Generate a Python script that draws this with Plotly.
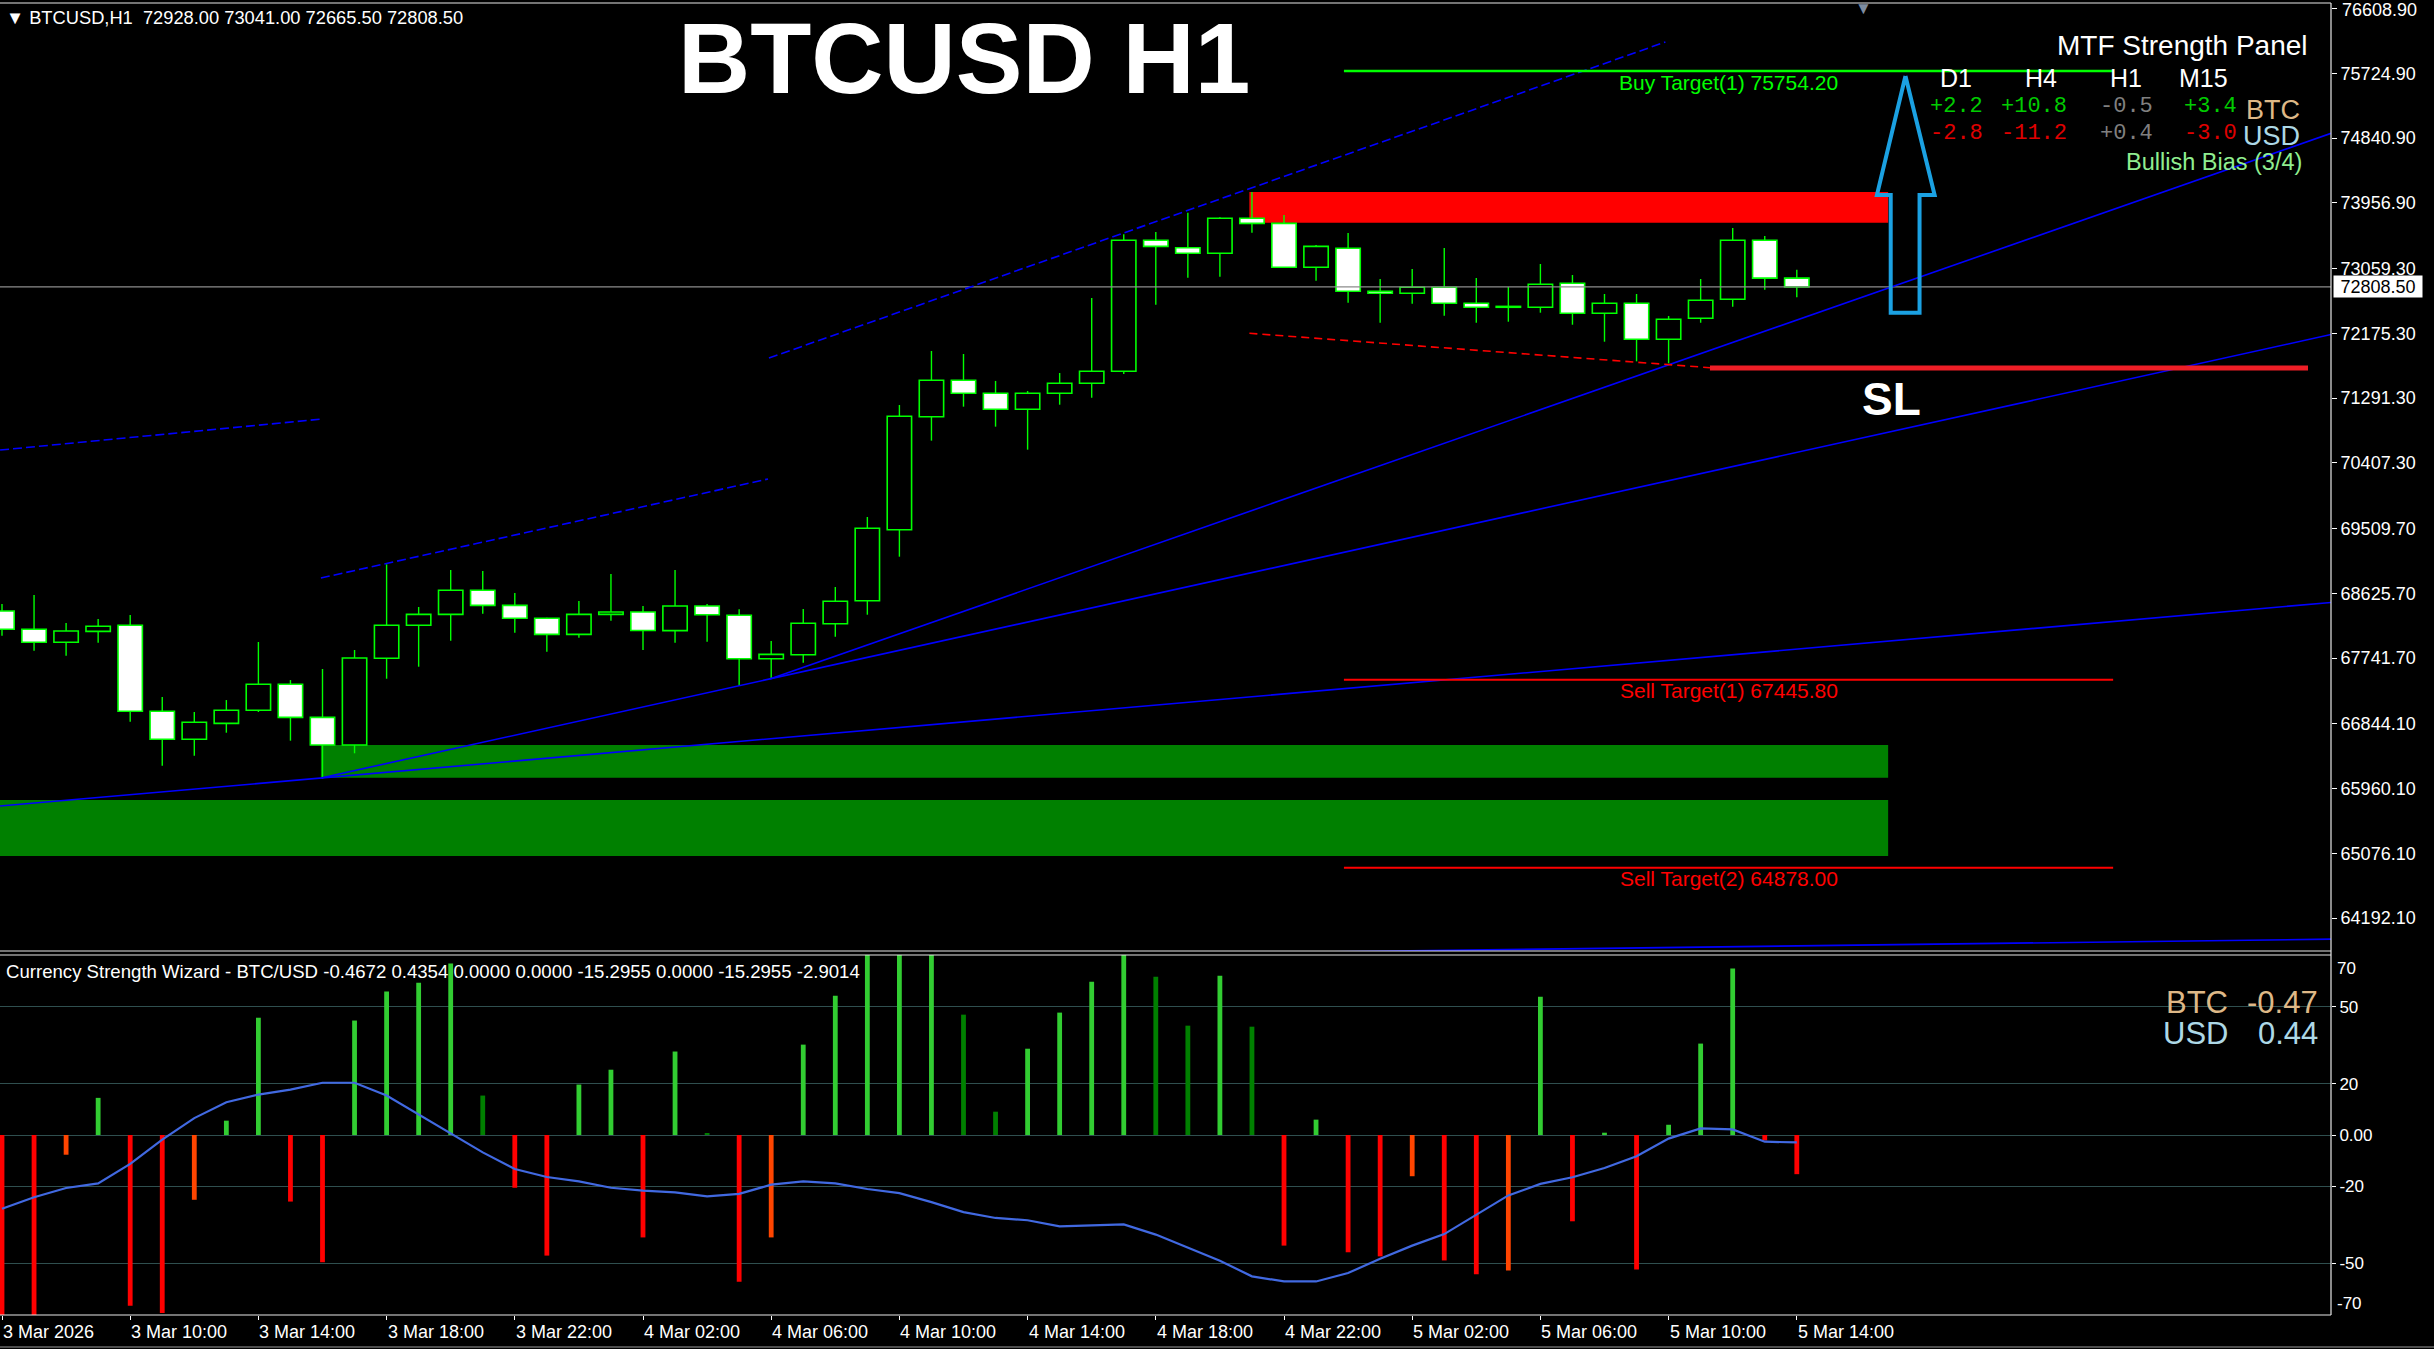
import plotly.graph_objects as go

# ---------------- DATA ----------------
symbol = "BTCUSD"
timeframe = "H1"
time_tick_bars = list(range(0, 57, 4))
time_tick_labels = ["3 Mar 2026", "3 Mar 10:00", "3 Mar 14:00", "3 Mar 18:00", "3 Mar 22:00",
                    "4 Mar 02:00", "4 Mar 06:00", "4 Mar 10:00", "4 Mar 14:00", "4 Mar 18:00",
                    "4 Mar 22:00", "5 Mar 02:00", "5 Mar 06:00", "5 Mar 10:00", "5 Mar 14:00"]

opens = [68383, 68134, 67956, 68106, 68188, 67014, 66632, 66850, 67028, 67383,
         66932, 66554, 67738, 68188, 68338, 68666, 68461, 68284, 68065, 68338,
         68370, 68115, 68452, 68325, 67732, 67787, 68210, 68524, 69493, 71036,
         71533, 71356, 71137, 71356, 71492, 71656, 73444, 73343, 73267, 73745,
         73676, 73076, 73335, 72748, 72721, 72803, 72584, 72530, 72530, 72857,
         72448, 72584, 72093, 72380, 72639, 73444, 72928.00]
highs = [68479, 68602, 68220, 68274, 68329, 67209, 67005, 67168, 67960, 67441,
         67592, 67851, 69021, 68438, 68943, 68930, 68629, 68290, 68520, 68889,
         68452, 68943, 68479, 68407, 67974, 68411, 68711, 69667, 71196, 71933,
         71892, 71524, 71387, 71633, 72657, 73526, 73558, 73821, 73758, 74104,
         73790, 73380, 73544, 72916, 73053, 73339, 72930, 72807, 73121, 72971,
         72711, 72711, 72411, 72916, 73612, 73503, 73041.00]
lows = [68046, 67841, 67773, 67951, 66872, 66272, 66408, 66722, 67005, 66613,
        66094, 66441, 67459, 67623, 67978, 68347, 68087, 67828, 68019, 68251,
        67851, 67951, 67964, 67360, 67455, 67678, 68033, 68333, 69125, 70709,
        71173, 70900, 70586, 71200, 71296, 71619, 72565, 72934, 72947, 73548,
        73070, 72893, 72592, 72319, 72579, 72415, 72319, 72333, 72456, 72292,
        72060, 71792, 71765, 72319, 72538, 72770, 72665.50]
closes = [68134, 67956, 68110, 68175, 67014, 66632, 66864, 67028, 67383, 66932,
          66554, 67742, 68188, 68338, 68666, 68461, 68284, 68065, 68338, 68370,
          68117, 68452, 68333, 67732, 67792, 68216, 68516, 69513, 71042, 71533,
          71356, 71137, 71356, 71492, 71656, 73444, 73362, 73267, 73745, 73676,
          73076, 73362, 72748, 72721, 72803, 72584, 72530, 72542, 72844, 72448,
          72584, 72093, 72366, 72625, 73444, 72928, 72808.50]

price_ticks = [76608.90, 75724.90, 74840.90, 73956.90, 73059.30, 72175.30, 71291.30,
               70407.30, 69509.70, 68625.70, 67741.70, 66844.10, 65960.10, 65076.10, 64192.10]

# zones (bar index from/to, price top/bottom)
zone_x0 = [9.95, -1.0, 38.92]
zone_x1 = [58.85, 58.85, 58.85]
zone_top = [66554, 65803, 74104]
zone_bot = [66108, 65039, 73684]
zone_colors = ["#008000", "#008000", "#FF0000"]

# trend lines (bar, price) endpoints
solid_lines = [
    [(-0.06, 65721), (72.67, 68500)],
    [(9.95, 66104), (72.67, 72158)],
    [(23.96, 67455), (72.67, 74905)],
    [(30.0, 63667), (72.67, 63904)],
]
dashed_lines = [
    [(-0.06, 70581), (10.0, 71005)],
    [(9.95, 68834), (23.9, 70186)],
    [(23.93, 71837), (51.9, 76151)],
]
red_dash_line = [(38.92, 72175), (53.29, 71705)]
sl_price = 71700
sl_x = [53.29, 71.95]

buy_targets = [75754.20]
sell_targets = [67445.80, 64878.00]
target_x = [41.87, 65.87]

arrow_x = [59.39, 60.30, 59.83, 59.83, 58.93, 58.93, 58.50, 59.39]
arrow_y = [75687, 74063, 74063, 72456, 72456, 74063, 74063, 75687]

# Currency strength indicator
cs_hist = [-72, -72, -7.7, 14.5, -66.7, -69.5, -25.3, 5.6, 45.8, -26,
           -49.7, 44.7, 56, 59.5, 67, 15.4, -20.6, -47.1, 19.7, 25.5,
           -40, 32.6, 0.4, -57.3, -40, 35.3, 54.4, 71, 72, 72,
           47, 9.1, 33.7, 47.8, 59.9, 72, 61.8, 42.7, 62.2, 42.3,
           -43.2, 6, -45.8, -47.4, -16.1, -49, -54.4, -52.9, 54, -33.7,
           0.9, -52.5, 4, 35.7, 65, -2.1, -15.3]
cs_state = ['dn', 'dn', 'dn2', 'up', 'dn', 'dn', 'dn2', 'up', 'up', 'dn',
            'dn', 'up', 'up', 'up', 'up', 'up2', 'dn', 'dn', 'up', 'up',
            'dn', 'up', 'up2', 'dn', 'dn2', 'up', 'up', 'up', 'up', 'up',
            'up2', 'up2', 'up', 'up', 'up', 'up', 'up2', 'up2', 'up', 'up2',
            'dn', 'up', 'dn', 'dn', 'dn2', 'dn', 'dn', 'dn2', 'up', 'dn',
            'up', 'dn', 'up', 'up', 'up', 'dn', 'dn']
cs_line = [-28.8, -24.3, -20.7, -18.9, -11.3, -1.8, 6.6, 12.8, 15.8, 17.7,
           20.4, 20.4, 15.4, 7.9, 0.5, -6.8, -13.3, -16.4, -18.1, -20.6,
           -21.7, -22.4, -24.0, -23.0, -19.4, -18.1, -18.9, -21.1, -22.7, -26.2,
           -30.1, -32.4, -33.3, -35.7, -35.3, -34.9, -38.9, -43.9, -49.1, -55.2,
           -57.2, -57.2, -53.9, -48.3, -43.2, -38.7, -31.1, -23.6, -19.1, -16.5,
           -12.9, -8.3, -1.4, 2.6, 2.2, -2.6, -2.9]
cs_buffers = [-0.4672, 0.4354, 0.0000, 0.0000, -15.2955, 0.0000, -15.2955, -2.9014]
cs_ticks = [50, 20, 0, -20, -50]
cs_ticktext = ["50", "20", "0.00", "-20", "-50"]

mtf_frames = ["D1", "H4", "H1", "M15"]
mtf_btc = [2.2, 10.8, -0.5, 3.4]
mtf_usd = [-2.8, -11.2, 0.4, -3.0]
mtf_bias = "Bullish Bias (3/4)"

# ---------------- LAYOUT HELPERS ----------------
W, H = 2434, 1349
PL, PR, PT, PB = 0, 2331, 3, 1315
MAIN_BOTTOM, IND_TOP = 951, 955


def px(x):
    return (x - PL) / (PR - PL)


def py(y):
    return (PB - y) / (PB - PT)


FONT = "Liberation Sans"
LIME = "#00FF00"
hist_colors = {'up': '#32CD32', 'up2': '#008000', 'dn': '#FF0000', 'dn2': '#FF4500'}

fig = go.Figure()
n = len(opens)
idx = list(range(n))

# zones
for x0, x1, t, b, c in zip(zone_x0, zone_x1, zone_top, zone_bot, zone_colors):
    fig.add_shape(type="rect", xref="x", yref="y", x0=x0, x1=x1, y0=b, y1=t,
                  fillcolor=c, line=dict(width=0), layer="below")

# candle bodies
body_base = [min(o, c) for o, c in zip(opens, closes)]
body_h = [max(abs(c - o), 6) for o, c in zip(opens, closes)]
body_fill = ["black" if c >= o else "white" for o, c in zip(opens, closes)]
fig.add_trace(go.Bar(x=idx, y=body_h, base=body_base, width=0.76,
                     marker=dict(color=body_fill, line=dict(color=LIME, width=1.6)),
                     xaxis="x", yaxis="y", hoverinfo="skip"))

# wicks
wx, wy = [], []
for i, o, h, l, c in zip(idx, opens, highs, lows, closes):
    top, bot = max(o, c), min(o, c)
    wx += [i, i, None, i, i, None]
    wy += [h, top, None, bot, l, None]
fig.add_trace(go.Scatter(x=wx, y=wy, mode="lines", line=dict(color=LIME, width=1.4),
                         xaxis="x", yaxis="y", hoverinfo="skip"))

# bid line
fig.add_trace(go.Scatter(x=[-1, 80], y=[closes[-1], closes[-1]], mode="lines",
                         line=dict(color="#8C8C8C", width=1.2), xaxis="x", yaxis="y"))

# trend lines
for seg in solid_lines:
    fig.add_trace(go.Scatter(x=[p[0] for p in seg], y=[p[1] for p in seg], mode="lines",
                             line=dict(color="#0000FF", width=1.6), xaxis="x", yaxis="y"))
for seg in dashed_lines:
    fig.add_trace(go.Scatter(x=[p[0] for p in seg], y=[p[1] for p in seg], mode="lines",
                             line=dict(color="#0000FF", width=1.6, dash="9px,4px"), xaxis="x", yaxis="y"))
fig.add_trace(go.Scatter(x=[p[0] for p in red_dash_line], y=[p[1] for p in red_dash_line], mode="lines",
                         line=dict(color="#FF0000", width=1.6, dash="8px,5px"), xaxis="x", yaxis="y"))
fig.add_trace(go.Scatter(x=sl_x, y=[sl_price, sl_price], mode="lines",
                         line=dict(color="#EE1E26", width=5), xaxis="x", yaxis="y"))

# targets
for k, v in enumerate(buy_targets):
    fig.add_trace(go.Scatter(x=target_x, y=[v, v], mode="lines", line=dict(color=LIME, width=2.5),
                             xaxis="x", yaxis="y"))
    fig.add_annotation(x=sum(target_x) / 2, y=v, xref="x", yref="y", text=f"Buy Target({k+1}) {v:.2f}",
                       showarrow=False, yshift=-11, font=dict(family=FONT, size=21, color=LIME))
for k, v in enumerate(sell_targets):
    fig.add_trace(go.Scatter(x=target_x, y=[v, v], mode="lines", line=dict(color="#FF0000", width=2),
                             xaxis="x", yaxis="y"))
    fig.add_annotation(x=sum(target_x) / 2, y=v, xref="x", yref="y", text=f"Sell Target({k+1}) {v:.2f}",
                       showarrow=False, yshift=-11, font=dict(family=FONT, size=21, color="#FF0000"))

# arrow
fig.add_trace(go.Scatter(x=arrow_x, y=arrow_y, mode="lines", line=dict(color="#1BA1E2", width=4),
                         xaxis="x", yaxis="y"))

# indicator
fig.add_trace(go.Bar(x=idx, y=cs_hist, width=0.15, marker=dict(color=[hist_colors[s] for s in cs_state], line=dict(width=0)),
                     xaxis="x", yaxis="y2"))
fig.add_trace(go.Scatter(x=idx, y=cs_line, mode="lines", line=dict(color="#4169E1", width=2.2),
                         xaxis="x", yaxis="y2"))

# ---------------- TEXT ----------------
def ann(text, x, y, size, color, xanchor="center", family=FONT, bold=False, yanchor="middle"):
    fig.add_annotation(text=(f"<b>{text}</b>" if bold else text), x=px(x), y=py(y), xref="paper", yref="paper",
                       xanchor=xanchor, yanchor=yanchor, showarrow=False,
                       font=dict(family=family, size=size, color=color))

ann(f"▼ {symbol},{timeframe}  {opens[-1]:.2f} {highs[-1]:.2f} {lows[-1]:.2f} {closes[-1]:.2f}",
    4, 17.5, 18.3, "white", xanchor="left")
ann(f"{symbol} {timeframe}", 964, 58, 100, "white", bold=True)
ann("SL", 1891, 399, 46, "white", bold=True)
ann("▼", 1863, 9, 17, "#7D8CA0")

# top price label (plotly hides it at the very edge)
ann(f"{price_ticks[0]:.2f}", 2340, 10, 18, "white", xanchor="left")

# MTF panel
ann("MTF Strength Panel", 2310, 46, 28, "white", xanchor="right")
hdr_x = [1956, 2041, 2126, 2203]
val_x = [1956, 2034, 2126, 2210]
for f, hx in zip(mtf_frames, hdr_x):
    ann(f, hx, 78, 25, "white")


def scol(v):
    if abs(v) < 1:
        return "#808080"
    return "#00CC00" if v > 0 else "#E00000"


for v, vx in zip(mtf_btc, val_x):
    ann(f"{v:+.1f}", vx, 107, 22, scol(v), family="Liberation Mono")
for v, vx in zip(mtf_usd, val_x):
    ann(f"{v:+.1f}", vx, 133, 22, scol(v), family="Liberation Mono")
ann("BTC", 2302, 110, 27, "#DEB887", xanchor="right")
ann("USD", 2302, 136, 27, "#ADD8E6", xanchor="right")
ann(mtf_bias, 2304, 162, 23.5, "#90EE90", xanchor="right")

# indicator texts
ann("Currency Strength Wizard - BTC/USD " + " ".join(f"{v:.4f}" for v in cs_buffers),
    4, 971, 18.6, "white", xanchor="left")
ann("BTC", 2230, 1002, 31, "#DEB887", xanchor="right")
ann(f"{cs_buffers[0]:.2f}", 2320, 1002, 31, "#DEB887", xanchor="right")
ann("USD", 2230, 1033, 31, "#ADD8E6", xanchor="right")
ann(f"{cs_buffers[1]:.2f}", 2320, 1033, 31, "#ADD8E6", xanchor="right")
ann("70", 2335, 968, 17, "white", xanchor="left")
ann("-70", 2335, 1303, 17, "white", xanchor="left")

# time labels
for b, lab in zip(time_tick_bars, time_tick_labels):
    fig.add_annotation(text=lab, x=b, y=py(1320), xref="x", yref="paper", xanchor="left", yanchor="top",
                       xshift=-1, showarrow=False, font=dict(family=FONT, size=18, color="white"))

# bid label box
fig.add_annotation(text=f"{closes[-1]:.2f}", x=px(2333), y=closes[-1], xref="paper", yref="y",
                   xanchor="left", showarrow=False, bgcolor="white", width=86, height=19, borderpad=1,
                   font=dict(family=FONT, size=18, color="black"))

# frames
frame = "#E8E8E8"
for y0 in [PT, MAIN_BOTTOM, IND_TOP, PB]:
    fig.add_shape(type="line", xref="paper", yref="paper", x0=0, x1=1, y0=py(y0), y1=py(y0),
                  line=dict(color=frame, width=1.2))
fig.add_shape(type="line", xref="paper", yref="paper", x0=1, x1=1, y0=0, y1=1, line=dict(color=frame, width=1.2))
fig.add_shape(type="line", xref="paper", yref="paper", x0=0, x1=px(2434), y0=py(1347), y1=py(1347),
              line=dict(color="#9A9A9A", width=1))

x_lo = (PL - 2) / 32.05
x_hi = (PR - 2) / 32.05
fig.update_layout(
    width=W, height=H, autosize=False,
    margin=dict(l=PL, r=W - PR, t=PT, b=H - PB, pad=0),
    paper_bgcolor="black", plot_bgcolor="black",
    showlegend=False, barmode="overlay", hovermode=False,
    xaxis=dict(range=[x_lo, x_hi], anchor="y2", tickvals=time_tick_bars, ticks="outside", ticklen=4,
               tickcolor="white", showticklabels=False, showgrid=False, zeroline=False, showline=False),
    yaxis=dict(domain=[py(MAIN_BOTTOM), 1], range=[63741.9, 76683.9], side="right", anchor="x",
               tickvals=price_ticks, ticktext=[f"{v:.2f}" for v in price_ticks], ticks="outside",
               ticklen=5, tickcolor="white", tickfont=dict(family=FONT, size=18, color="white"),
               showgrid=False, zeroline=False, showline=False),
    yaxis2=dict(domain=[0, py(IND_TOP)], range=[-70.3, 70.3], side="right", anchor="x",
                tickvals=cs_ticks, ticktext=cs_ticktext, ticks="outside", ticklen=4, tickcolor="white",
                tickfont=dict(family=FONT, size=17, color="white"),
                showgrid=True, gridcolor="#2F4F4F", gridwidth=1, zeroline=False, showline=False),
)

fig.write_html("out.html", config={"displayModeBar": False},
               post_script="document.body.style.margin='0';document.body.style.overflow='hidden';")
